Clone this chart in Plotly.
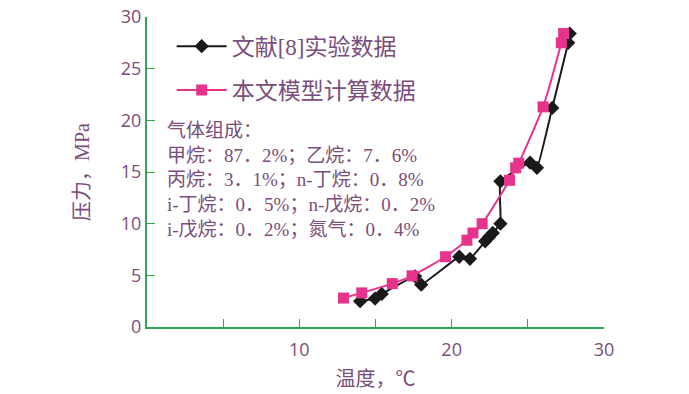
import plotly.graph_objects as go

# Experimental data (文献[8])
exp_T = [13.99, 14.97, 15.41, 17.6, 18.0, 20.5, 21.2, 22.2, 22.45, 22.7, 23.2, 23.2, 25.15, 25.6, 26.6, 27.65, 27.75]
exp_P = [2.5, 2.75, 3.2, 4.9, 4.1, 6.8, 6.6, 8.3, 8.7, 9.1, 10.0, 14.1, 15.9, 15.4, 21.2, 27.5, 28.4]

# Model data (本文模型)
mod_T = [12.9, 14.1, 16.1, 17.4, 19.6, 21.0, 21.4, 22.0, 23.8, 24.2, 24.4, 26.0, 27.2, 27.35]
mod_P = [2.8, 3.3, 4.2, 4.95, 6.8, 8.4, 9.1, 10.0, 14.2, 15.4, 15.85, 21.3, 27.5, 28.4]

x_ticks = [10, 20, 30]
y_ticks = [0, 5, 10, 15, 20, 25, 30]

txt_color = "#7b4d7a"
green = "#2fa552"
cjk = "Liberation Serif, Noto Sans CJK SC"

fig = go.Figure()
fig.add_trace(go.Scatter(
    x=exp_T, y=exp_P, mode="lines+markers", name="文献[8]实验数据", legendgroup="a",
    line=dict(color="#1a1a1a", width=2, shape="spline", smoothing=0.3),
    marker=dict(symbol="diamond", size=11, color="#1a1a1a"),
))
fig.add_trace(go.Scatter(
    x=mod_T, y=mod_P, mode="lines+markers", name="本文模型计算数据", legendgroup="b",
    line=dict(color="#e8338c", width=2, shape="spline", smoothing=0.5),
    marker=dict(symbol="square", size=11, color="#e8338c"),
))

fig.add_annotation(
    xref="paper", yref="paper", x=0.04, y=0.675, xanchor="left", yanchor="top",
    align="left", showarrow=False,
    text="气体组成：<br>甲烷：87．2%；乙烷：7．6%<br>丙烷：3．1%；n-丁烷：0．8%<br>i-丁烷：0．5%；n-戊烷：0．2%<br>i-戊烷：0．2%；氮气：0．4%",
    font=dict(family=cjk, size=19, color=txt_color),
)

fig.update_layout(
    width=689, height=394,
    margin=dict(l=147, r=85, t=17, b=67),
    paper_bgcolor="white", plot_bgcolor="white",
    showlegend=True,
    legend=dict(x=0.054, y=0.975, xanchor="left", yanchor="top",
                font=dict(family=cjk, size=23, color=txt_color),
                bgcolor="rgba(0,0,0,0)", itemwidth=50, tracegroupgap=11),
    xaxis=dict(range=[0, 30], tickvals=x_ticks, ticks="inside", ticklen=8, tickcolor=green,
               showline=True, linecolor=green, linewidth=2, showgrid=False, zeroline=False,
               ticklabelstandoff=5, automargin=False,
               tickfont=dict(family="Open Sans", size=18, color=txt_color),
               minor=dict(tickvals=[5, 15, 25], ticks="inside", ticklen=8, tickcolor=green),
               title=dict(text="温度，℃", font=dict(family=cjk, size=20, color=txt_color), standoff=12)),
    yaxis=dict(range=[0, 30], tickvals=y_ticks, ticks="inside", ticklen=8, tickcolor=green,
               showline=True, linecolor=green, linewidth=2, showgrid=False, zeroline=False,
               automargin=False,
               tickfont=dict(family="Open Sans", size=18, color=txt_color),
               title=dict(text="压力，MPa", font=dict(family=cjk, size=20, color=txt_color), standoff=26)),
)

fig.write_html("out.html")
